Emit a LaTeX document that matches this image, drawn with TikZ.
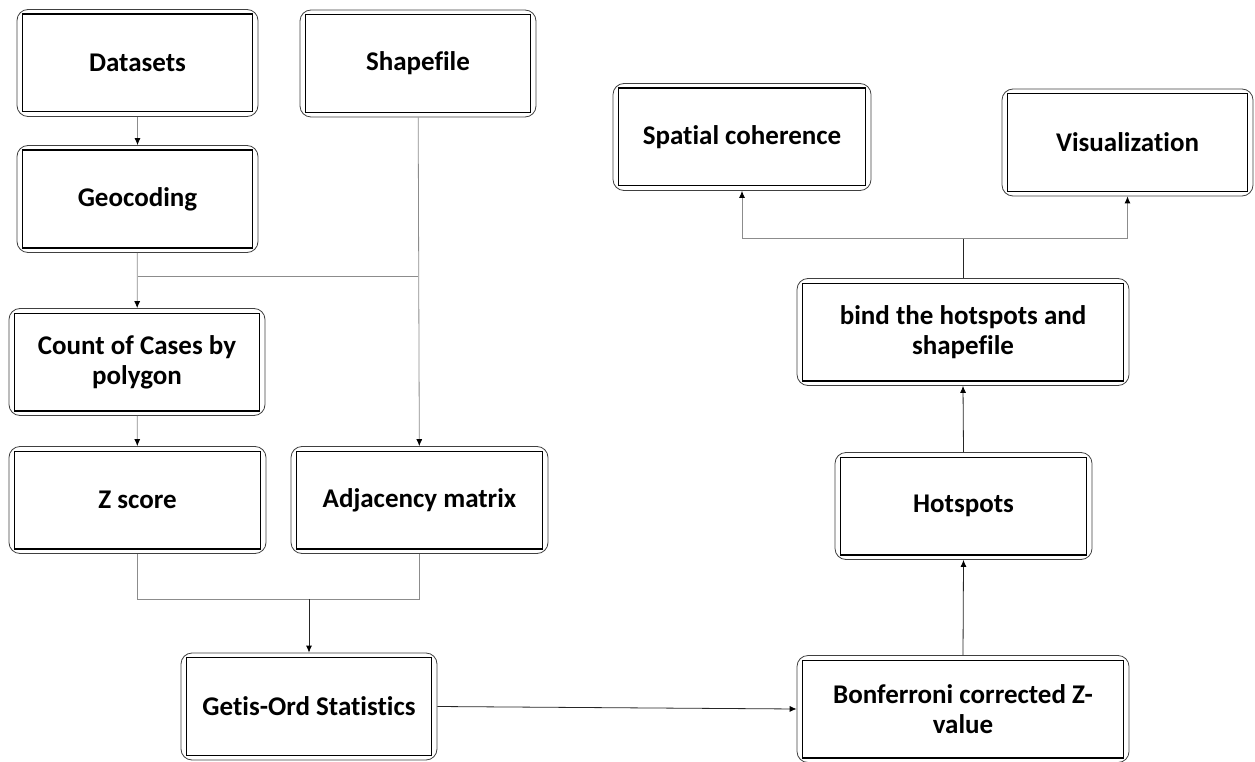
\documentclass[tikz,border=0pt]{standalone}
\usepackage{fontspec}
\setmainfont[Ligatures=NoCommon]{Carlito}
\usetikzlibrary{arrows.meta}

\tikzset{
  stepbox/.style={draw=black!75, line width=0.8pt, rounded corners=11pt,
    inner sep=0pt, minimum width=#1, minimum height=107pt, align=center,
    font=\fontsize{27}{30}\selectfont\bfseries},
  stepbox/.default=257pt,
  link/.style={draw=black!45, line width=0.8pt},
  darklink/.style={draw=black!85, line width=0.8pt},
  tip/.style={-{Latex[color=black,length=7pt,width=6pt]}}
}

\begin{document}
\begin{tikzpicture}[x=1pt,y=-1pt]
\useasboundingbox (0,0) rectangle (1255,762);

% 左列
\node[stepbox=241pt] (data) at (137.5,63) {Datasets};
\node[stepbox=236pt] (shape) at (418,63.5) {Shapefile};
\node[stepbox=241pt] (geo) at (137.5,199) {Geocoding};
\node[stepbox=256pt] (count) at (137,362) {Count of Cases by\\polygon};
\node[stepbox] (zs) at (137.5,500) {Z score};
\node[stepbox] (adj) at (419.5,500) {Adjacency matrix};
\node[stepbox=256pt] (getis) at (309,706.5) {Getis-Ord Statistics};

% 右列
\node[stepbox=332pt] (bonf) at (963,709) {Bonferroni corrected Z-\\value};
\node[stepbox] (hot) at (963.5,506) {Hotspots};
\node[stepbox=332pt] (bind) at (963,332) {bind the hotspots and\\shapefile};
\node[stepbox=258pt] (spat) at (742,137) {Spatial coherence};
\node[stepbox=251pt] (vis) at (1127.5,142.5) {Visualization};

% 内框
\foreach \n in {data,shape,geo,count,zs,adj,getis,bonf,hot,bind,spat,vis}
  \draw[line width=1.2pt] ([shift={(6pt,-5pt)}]\n.north west)
    rectangle ([shift={(-6pt,5pt)}]\n.south east);

% 连线
\coordinate (j1) at (137.5,276);
\coordinate (j2) at (309,599);
\coordinate (j3) at (963,238);

\draw[link,tip] (data) -- (geo);
\draw[link,tip] (geo) -- (count);
\draw[link,tip] (shape) -- (adj);
\draw[link] (j1) -- (j1 -| shape.south);
\draw[link,tip] (count) -- (zs);
\draw[link] (zs.south) |- (j2);
\draw[link] (adj.south) |- (j2);
\draw[darklink,tip] (j2) -- (getis.north);
\draw[darklink,tip] (getis.east) -- (bonf.west);
\draw[darklink,tip] (bonf.north) -- (hot.south);
\draw[darklink,tip] (hot.north) -- (bind.south);
\draw[darklink] (bind.north) -- (j3);
\draw[link,tip] (j3) -| (spat.south);
\draw[link,tip] (j3) -| (vis.south);

\end{tikzpicture}
\end{document}
